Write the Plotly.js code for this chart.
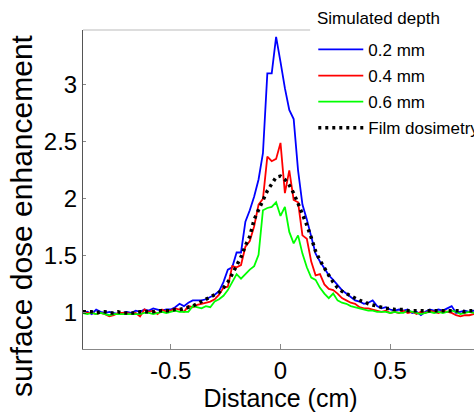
<!DOCTYPE html>
<html>
<head>
<meta charset="utf-8">
<script src="https://cdn.plot.ly/plotly-3.0.1.min.js"></script>
<style>
html,body{margin:0;padding:0;overflow:hidden;background:#fff;}
#chart{width:540px;height:412px;}
</style>
</head>
<body>
<div id="chart"></div>
<script>
// Distance grid (cm)
var distance = [];
for (var i = 0; i <= 90; i++) { distance.push(Math.round((-0.90 + 0.02 * i) * 100) / 100); }

var seriesNames = ['0.2 mm', '0.4 mm', '0.6 mm', 'Film dosimetry'];

var depth02 = [
  1.00,1.01,0.99,1.03,1.01,1.00,1.01,1.00,0.99,1.00,
  1.01,1.00,1.02,1.01,1.03,1.02,1.04,1.03,1.02,1.03,
  1.03,1.05,1.08,1.06,1.09,1.11,1.11,1.11,1.12,1.14,
  1.16,1.19,1.27,1.38,1.40,1.53,1.53,1.80,1.90,2.02,
  2.17,2.40,3.10,3.10,3.42,3.20,2.97,2.78,2.70,2.25,
  1.95,1.82,1.66,1.52,1.45,1.39,1.33,1.29,1.24,1.20,
  1.17,1.14,1.11,1.10,1.08,1.09,1.11,1.06,1.04,1.05,
  1.03,1.02,1.03,1.02,1.03,1.00,1.01,0.98,1.01,1.03,
  1.02,1.03,1.02,1.04,1.06,1.00,1.01,1.02,1.01,1.02,1.01
];
var depth04 = [
  1.01,1.00,1.00,0.99,1.00,0.99,0.97,0.98,1.00,1.00,
  1.00,0.99,1.00,0.97,1.03,1.01,1.02,0.99,1.03,1.01,
  1.02,1.04,1.03,1.01,1.06,1.05,1.07,1.08,1.09,1.10,
  1.12,1.16,1.22,1.23,1.41,1.40,1.42,1.58,1.63,1.76,
  1.95,2.00,2.37,2.33,2.35,2.49,2.05,2.25,1.99,1.97,
  1.68,1.65,1.45,1.33,1.34,1.25,1.21,1.20,1.17,1.13,
  1.11,1.09,1.08,1.05,1.04,1.04,1.03,1.02,1.01,1.02,
  1.00,1.01,1.00,1.02,1.00,1.01,0.99,1.01,1.00,1.02,
  1.01,1.00,1.02,1.01,1.00,0.98,0.97,0.98,0.98,0.99,1.00
];
var depth06 = [
  1.00,0.99,1.00,0.99,1.00,0.99,0.98,0.99,0.99,0.99,
  0.99,0.99,0.99,0.99,1.00,1.00,0.99,1.00,1.01,1.00,
  1.01,1.02,1.01,1.01,1.01,1.06,1.05,1.04,1.06,1.05,
  1.10,1.12,1.15,1.20,1.27,1.34,1.30,1.34,1.38,1.41,
  1.51,1.90,1.92,1.93,1.97,1.85,1.93,1.71,1.61,1.68,
  1.52,1.40,1.31,1.29,1.22,1.17,1.13,1.17,1.11,1.09,
  1.08,1.06,1.05,1.04,1.03,1.02,1.02,1.01,1.01,1.01,
  1.00,1.01,1.00,1.00,1.02,1.01,1.00,0.99,1.00,1.01,
  1.00,1.01,1.00,1.01,1.02,1.01,0.99,1.00,1.01,1.00,1.00
];
var film = [
  1.01,1.01,1.01,1.00,1.01,1.01,1.00,1.00,1.01,1.00,
  1.00,1.00,1.00,1.01,1.01,1.01,1.01,1.02,1.02,1.02,
  1.02,1.03,1.03,1.04,1.05,1.06,1.08,1.10,1.12,1.14,
  1.16,1.18,1.22,1.27,1.34,1.41,1.49,1.59,1.67,1.82,
  1.90,1.98,2.07,2.13,2.19,2.20,2.17,2.12,2.05,1.96,
  1.87,1.77,1.66,1.54,1.46,1.39,1.33,1.27,1.22,1.19,
  1.17,1.15,1.13,1.11,1.10,1.08,1.07,1.06,1.05,1.04,
  1.04,1.03,1.03,1.03,1.02,1.02,1.02,1.02,1.02,1.02,
  1.02,1.02,1.02,1.02,1.02,1.02,1.02,1.01,1.02,1.02,1.02
];

var xTicks = [-0.5, 0, 0.5];
var xTickText = ['-0.5', '0', '0.5'];
var yTicks = [1, 1.5, 2, 2.5, 3];
var yTickText = ['1', '1.5', '2', '2.5', '3'];
var legendTitle = 'Simulated depth';
var yTitle = 'surface dose enhancement';

var font = 'Liberation Sans, Arial, sans-serif';

var traces = [
  {x: distance, y: depth02, name: seriesNames[0], legendgroup: 'a', mode: 'lines', line: {color: '#0000ff', width: 1.8}},
  {x: distance, y: depth04, name: seriesNames[1], legendgroup: 'b', mode: 'lines', line: {color: '#ff0000', width: 1.8}},
  {x: distance, y: depth06, name: seriesNames[2], legendgroup: 'c', mode: 'lines', line: {color: '#00ff00', width: 1.8}},
  {x: distance, y: film, name: seriesNames[3], legendgroup: 'd', mode: 'lines', line: {color: '#000000', width: 3.5, dash: '3px,4px'}}
];

var layout = {
  width: 540, height: 412,
  margin: {l: 83, r: 62, t: 30, b: 63},
  paper_bgcolor: '#ffffff', plot_bgcolor: '#ffffff',
  font: {family: font, color: '#000', size: 20},
  showlegend: true,
  legend: {
    x: 0.583, y: 0.994, xanchor: 'left', yanchor: 'top',
    bgcolor: 'rgba(0,0,0,0)', borderwidth: 0,
    font: {family: font, size: 17, color: '#000'},
    traceorder: 'grouped', tracegroupgap: 1, itemwidth: 45
  },
  shapes: [
    {type: 'line', xref: 'paper', yref: 'paper', x0: 0, x1: 0.575, y0: 1, y1: 1,
     line: {color: '#bbbbbb', width: 1}}
  ],
  annotations: [
    {text: legendTitle, xref: 'paper', yref: 'paper', x: (315 - 83) / 395, y: (349 - 18) / 319,
     xanchor: 'left', yanchor: 'middle', showarrow: false,
     font: {family: font, size: 17, color: '#000'}},
    {text: yTitle, xref: 'paper', yref: 'paper', x: (22 - 83) / 395, y: (349 - 216) / 319,
     xanchor: 'center', yanchor: 'middle', textangle: -90, showarrow: false,
     font: {family: font, size: 30, color: '#000'}}
  ],
  xaxis: {
    range: [-0.9, 0.9], tickvals: xTicks, ticktext: xTickText,
    ticks: 'inside', ticklen: 5, tickcolor: '#888', tickwidth: 1,
    showline: true, linecolor: '#888', linewidth: 1, mirror: false,
    showgrid: false, zeroline: false,
    tickfont: {family: font, size: 24, color: '#000'},
    title: {text: 'Distance (cm)', font: {family: font, size: 25, color: '#000'}, standoff: 8}
  },
  yaxis: {
    range: [0.684, 3.48], tickvals: yTicks, ticktext: yTickText,
    ticks: 'inside', ticklen: 3, tickcolor: '#888', tickwidth: 1,
    showline: true, linecolor: '#555', linewidth: 1, mirror: false,
    showgrid: false, zeroline: false,
    tickfont: {family: font, size: 24, color: '#000'}
  }
};

Plotly.newPlot('chart', traces, layout, {displayModeBar: false, staticPlot: true});
</script>
</body>
</html>
